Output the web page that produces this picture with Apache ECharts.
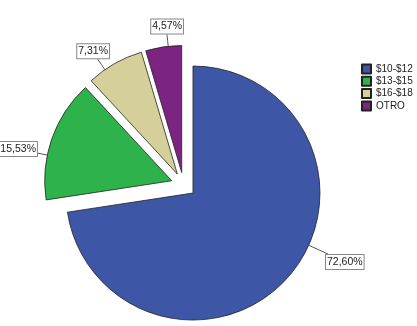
<!DOCTYPE html>
<html>
<head>
<meta charset="utf-8">
<script src="https://cdn.jsdelivr.net/npm/echarts@6/dist/echarts.min.js"></script>
<style>html,body{margin:0;padding:0;background:#fff}#c{width:417px;height:326px}</style>
</head>
<body>
<div id="c"></div>
<script>
const categories = ['$10-$12', '$13-$15', '$16-$18', 'OTRO'];
const values = [72.60, 15.53, 7.31, 4.57];
const colors = ['#3D57A6', '#2EB24B', '#D5CF99', '#7B2481'];
// label nudges (px) relative to ECharts' default outside-label spot
const labelNudge = [[24.6, -19], [-1.3, 12.7], [4.4, -5.5], [26.6, -12.4]];
const pieRadius = 127;

const chart = echarts.init(document.getElementById('c'), null, {renderer: 'canvas'});
chart.setOption({
  animation: false,
  backgroundColor: '#fff',
  legend: {
    orient: 'vertical',
    left: 356, top: 58,
    itemWidth: 9, itemHeight: 9, itemGap: 0.3,
    icon: 'rect',
    textStyle: {fontFamily: 'Liberation Sans, Arial, sans-serif', fontSize: 10, color: '#222', lineHeight: 12},
    data: categories
  },
  series: [{
    type: 'pie',
    center: [183.5, 184.9],
    radius: pieRadius,
    startAngle: 90,
    clockwise: true,
    selectedMode: 'multiple',
    selectedOffset: 12.5,
    avoidLabelOverlap: false,
    emphasis: {disabled: true},
    itemStyle: {borderColor: '#222', borderWidth: 0.8},
    select: {itemStyle: {borderColor: '#222', borderWidth: 0.8}},
    label: {
      position: 'outside',
      formatter: p => p.value.toFixed(2).replace('.', ',') + '%',
      fontFamily: 'Liberation Sans, Arial, sans-serif',
      fontSize: 10.5,
      lineHeight: 13,
      color: '#222',
      backgroundColor: '#fff',
      borderColor: '#888',
      borderWidth: 1,
      padding: [1, 1, 0, 1],
      distanceToLabelLine: 0
    },
    labelLine: {show: true, length: 8, length2: 6, lineStyle: {color: '#555', width: 1}},
    labelLayout: function (p) {
      const n = labelNudge[p.dataIndex];
      const pts = p.labelLinePoints;
      const w = p.labelRect.width, h = p.labelRect.height;
      const ux = pts[1][0] - pts[0][0], uy = pts[1][1] - pts[0][1];
      const ul = Math.hypot(ux, uy);
      const cx = pts[0][0] - pieRadius * ux / ul, cy = pts[0][1] - pieRadius * uy / ul;
      const left = (ux < 0 ? pts[2][0] - w : pts[2][0]) + n[0];
      const midY = pts[2][1] + n[1];
      const bx = left + w / 2;
      const vx = cx - bx, vy = cy - midY;
      const tx = vx !== 0 ? Math.abs((w / 2) / vx) : Infinity;
      const ty = vy !== 0 ? Math.abs((h / 2) / vy) : Infinity;
      const t = Math.min(tx, ty);
      const ex = bx + vx * t, ey = midY + vy * t;
      const dx = ex - cx, dy = ey - cy, dl = Math.hypot(dx, dy);
      const ax = cx + pieRadius * dx / dl, ay = cy + pieRadius * dy / dl;
      return {dx: n[0], dy: n[1], labelLinePoints: [[ax, ay], [(ax + ex) / 2, (ay + ey) / 2], [ex, ey]]};
    },
    data: categories.map((c, i) => ({
      name: c, value: values[i], selected: true,
      itemStyle: {color: colors[i]}
    }))
  }]
});
</script>
</body>
</html>
